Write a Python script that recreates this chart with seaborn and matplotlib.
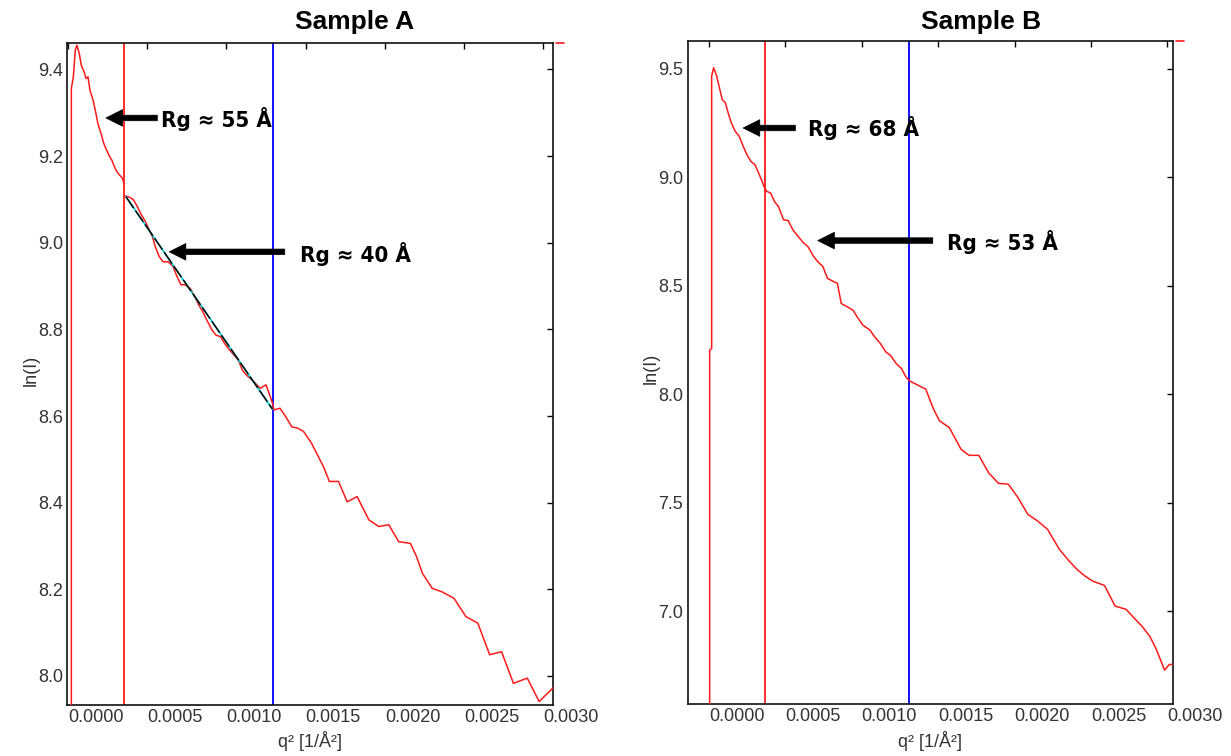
import matplotlib
matplotlib.use("Agg")
import matplotlib.pyplot as plt
from matplotlib import font_manager as fm
from matplotlib.ticker import FormatStrFormatter
import numpy as np
import pandas as pd
import seaborn as sns

# ---------------- data ----------------
# Sample A : first segment (up to the first Guinier marker)
qA_seg1 = [0.00002, 0.00002, 0.0000325, 0.000045, 0.000055, 0.00007, 0.0000825, 0.0001,
           0.0001125, 0.000125, 0.0001375, 0.0001575, 0.000175, 0.0001875, 0.0002075,
           0.000225, 0.0002375, 0.0002575, 0.000275, 0.0002925, 0.0003075, 0.000325,
           0.0003425, 0.0003525]
lnA_seg1 = [7.60, 9.356, 9.383, 9.445, 9.456, 9.437, 9.410, 9.395, 9.379, 9.383, 9.352,
            9.329, 9.299, 9.275, 9.252, 9.229, 9.218, 9.202, 9.191, 9.175, 9.164, 9.156,
            9.149, 9.137]
# Sample A : second segment
qA_seg2 = [0.0003625, 0.0003875, 0.0004125, 0.0004375, 0.0004625, 0.0004875, 0.0005125,
           0.0005325, 0.00055, 0.000575, 0.0006, 0.0006325, 0.0006625, 0.0006875, 0.0007125,
           0.0007375, 0.00077, 0.0008, 0.000825, 0.00085, 0.000875, 0.0009075, 0.0009325,
           0.0009625, 0.0009875, 0.0010175, 0.0010375, 0.001075, 0.0011, 0.001125, 0.0011625,
           0.0012125, 0.00125, 0.0012875, 0.0013, 0.0013375, 0.001375, 0.0014125, 0.00145,
           0.0014875, 0.0015375, 0.001575, 0.0016125, 0.00165, 0.0017075, 0.0017625, 0.001825,
           0.0019, 0.0019625, 0.002025, 0.0020875, 0.002162, 0.0022, 0.0022375, 0.0023,
           0.0023625, 0.0024375, 0.0025125, 0.0025875, 0.0026625, 0.0027375, 0.0028125,
           0.0029, 0.002975, 0.00307]
lnA_seg2 = [9.108, 9.105, 9.099, 9.083, 9.064, 9.049, 9.029, 9.014, 8.991, 8.968, 8.956,
            8.956, 8.945, 8.922, 8.903, 8.903, 8.895, 8.876, 8.856, 8.841, 8.822, 8.799,
            8.787, 8.783, 8.768, 8.753, 8.745, 8.729, 8.706, 8.695, 8.683, 8.664, 8.672,
            8.633, 8.614, 8.618, 8.598, 8.575, 8.572, 8.564, 8.537, 8.510, 8.483, 8.449,
            8.449, 8.402, 8.414, 8.360, 8.345, 8.349, 8.310, 8.306, 8.276, 8.237, 8.202,
            8.194, 8.179, 8.137, 8.122, 8.049, 8.056, 7.983, 7.995, 7.941, 7.975]
# Sample A : Guinier fit line
qA_fit = [0.000365, 0.00129]
lnA_fit = [9.106, 8.616]

# Sample B
qB = [0.000005, 0.000005, 0.000018, 0.000018, 0.000031, 0.000051, 0.000069, 0.0000875,
      0.000108, 0.000126, 0.000147, 0.000172, 0.000198, 0.000224, 0.000249, 0.000275,
      0.000301, 0.000326, 0.000344, 0.000365, 0.000378, 0.000404, 0.000429, 0.000455,
      0.000488, 0.000519, 0.00055, 0.000584, 0.000617, 0.000648, 0.000686, 0.000712,
      0.000746, 0.000776, 0.000815, 0.000841, 0.000866, 0.000905, 0.000943, 0.000977,
      0.001008, 0.001054, 0.001085, 0.001123, 0.001157, 0.001188, 0.001226, 0.00126,
      0.00129, 0.001311, 0.001355, 0.001419, 0.00147, 0.001509, 0.001573, 0.00165,
      0.001702, 0.001766, 0.00183, 0.001895, 0.001959, 0.002023, 0.002087, 0.002152,
      0.002216, 0.002293, 0.002357, 0.002409, 0.00246, 0.002512, 0.002589, 0.002658,
      0.00273, 0.002781, 0.002833, 0.002884, 0.002923, 0.002982, 0.003013, 0.00305]
lnB = [6.0, 8.203, 8.21, 9.466, 9.505, 9.466, 9.412, 9.358, 9.343, 9.297,
       9.250, 9.212, 9.189, 9.143, 9.104, 9.073, 9.058, 9.019, 8.988, 8.950,
       8.935, 8.927, 8.888, 8.865, 8.804, 8.800, 8.757, 8.727, 8.699, 8.680,
       8.634, 8.611, 8.588, 8.534, 8.519, 8.511, 8.418, 8.403, 8.387, 8.349,
       8.318, 8.295, 8.264, 8.233, 8.195, 8.179, 8.141, 8.118, 8.079, 8.062,
       8.046, 8.023, 7.931, 7.877, 7.846, 7.746, 7.718, 7.718, 7.638, 7.589,
       7.585, 7.523, 7.446, 7.415, 7.377, 7.285, 7.231, 7.192, 7.162, 7.138,
       7.118, 7.023, 7.008, 6.969, 6.931, 6.885, 6.831, 6.728, 6.754, 6.754]

# Guinier range markers (red = start, blue = end)
markA_red, markA_blue = 0.000355, 0.001295
markB_red, markB_blue = 0.000365, 0.001308

titles = ["Sample A", "Sample B"]
xlabel = "q² [1/Å²]"
ylabel = "ln(I)"
x_ticks = [0.0, 0.0005, 0.0010, 0.0015, 0.0020, 0.0025, 0.0030]
yA_ticks = [8.0, 8.2, 8.4, 8.6, 8.8, 9.0, 9.2, 9.4]
yB_ticks = [7.0, 7.5, 8.0, 8.5, 9.0, 9.5]

# annotations: (label, text_x, text_baseline_y, head_x, head_y, tail_x)
annA = [("Rg ≈ 55 Å", 0.000588, 9.266, 0.000238, 9.288, 0.000563),
        ("Rg ≈ 40 Å", 0.001463, 8.956, 0.000638, 8.979, 0.001368)]
annB = [("Rg ≈ 68 Å", 0.000648, 9.189, 0.000224, 9.227, 0.000566),
        ("Rg ≈ 53 Å", 0.001555, 8.665, 0.000712, 8.708, 0.001465)]

# ---------------- style ----------------
sns.set_style("white")
plt.rcParams['font.family'] = ['Liberation Sans', 'DejaVu Sans']

def find_condensed_bold():
    best = None
    for f in fm.fontManager.ttflist:
        n = (f.fname or '').lower().replace('-', '').replace('_', '')
        if ('oblique' in n) or ('italic' in n):
            continue
        if 'dejavusanscondensedbold' in n:
            return f.fname
        if ('narrow' in n or 'condensed' in n) and 'bold' in n and best is None:
            best = f.fname
    return best

cond = find_condensed_bold()
if cond:
    ann_font = fm.FontProperties(fname=cond, size=16)
else:
    ann_font = fm.FontProperties(family='DejaVu Sans', weight='bold', size=14)

W, H = 1231, 756
fig = plt.figure(figsize=(W / 100, H / 100), dpi=100)
fig.patch.set_facecolor('white')

axA = fig.add_axes([67 / W, 51 / H, 486 / W, 662 / H])
axB = fig.add_axes([687.5 / W, 52.5 / H, 485.5 / W, 662.5 / H])

RED = '#ff1a1a'
BLUE = '#0000ff'
TICKC = '#333333'


def style_axes(ax, xlim, ylim, yticks):
    ax.set_xlim(*xlim)
    ax.set_ylim(*ylim)
    ax.set_xticks(x_ticks)
    ax.set_yticks(yticks)
    ax.xaxis.set_major_formatter(FormatStrFormatter('%.4f'))
    ax.yaxis.set_major_formatter(FormatStrFormatter('%.1f'))
    ax.tick_params(direction='in', top=True, right=True, length=4, width=1,
                   colors='black', labelcolor=TICKC, labelsize=13, pad=3)
    plt.setp(ax.get_xticklabels(), ha='left')
    for s in ax.spines.values():
        s.set_visible(True)
        s.set_color('#111111')
        s.set_linewidth(1.2)
    ax.set_xlabel('')
    ax.set_ylabel('')
    ax.grid(False)
    # small red legend tick outside top-right corner
    ax.plot([1.006, 1.022], [1.0, 1.0], transform=ax.transAxes, color=RED,
            lw=1.2, clip_on=False)


def annotate(ax, items):
    for label, tx, ty, hx, hy, tlx in items:
        ax.annotate('', xy=(hx, hy), xytext=(tlx, hy),
                    arrowprops=dict(arrowstyle='simple,head_length=0.6,head_width=0.6,tail_width=0.2',
                                    mutation_scale=20, fc='black', ec='black', lw=0.5,
                                    shrinkA=0, shrinkB=0))
        ax.text(tx, ty, label, fontproperties=ann_font, ha='left', va='baseline', color='black')


# ---- Sample A ----
dfA1 = pd.DataFrame({'q2': qA_seg1, 'lnI': lnA_seg1})
dfA2 = pd.DataFrame({'q2': qA_seg2, 'lnI': lnA_seg2})
dfAf = pd.DataFrame({'q2': qA_fit, 'lnI': lnA_fit})
axA.axvline(markA_red, color=RED, lw=1.3, zorder=2)
axA.axvline(markA_blue, color=BLUE, lw=1.3, zorder=2)
sns.lineplot(data=dfA1, x='q2', y='lnI', ax=axA, color=RED, lw=1.1, estimator=None, sort=False, zorder=3)
sns.lineplot(data=dfA2, x='q2', y='lnI', ax=axA, color=RED, lw=1.1, estimator=None, sort=False, zorder=3)
sns.lineplot(data=dfAf, x='q2', y='lnI', ax=axA, color='#00d0e0', lw=1.2, estimator=None, sort=False, zorder=4)
sns.lineplot(data=dfAf, x='q2', y='lnI', ax=axA, color='black', lw=1.1, estimator=None, sort=False,
             zorder=5, dashes=False)
axA.lines[-1].set_dashes([9, 2])
style_axes(axA, (-0.0000075, 0.0030625), (7.933, 9.461), yA_ticks)
annotate(axA, annA)

# ---- Sample B ----
dfB = pd.DataFrame({'q2': qB, 'lnI': lnB})
axB.axvline(markB_red, color=RED, lw=1.3, zorder=2)
axB.axvline(markB_blue, color=BLUE, lw=1.3, zorder=2)
sns.lineplot(data=dfB, x='q2', y='lnI', ax=axB, color=RED, lw=1.1, estimator=None, sort=False, zorder=3)
style_axes(axB, (-0.00014, 0.003037), (6.574, 9.628), yB_ticks)
annotate(axB, annB)

# ---- titles and axis labels as figure text ----
title_font = dict(fontsize=19, fontweight='bold', color='black', ha='center', va='baseline')
fig.text(355 / W, 1 - 28.5 / H, titles[0], **title_font)
fig.text(981 / W, 1 - 28.5 / H, titles[1], **title_font)

lab_font = dict(fontsize=13, color=TICKC)
fig.text(309.5 / W, 1 - 747 / H, xlabel, ha='center', va='baseline', **lab_font)
fig.text(930 / W, 1 - 747 / H, xlabel, ha='center', va='baseline', **lab_font)
fig.text(31 / W, 1 - 370 / H, ylabel, rotation=90, ha='center', va='center', **lab_font)
fig.text(651 / W, 1 - 368 / H, ylabel, rotation=90, ha='center', va='center', **lab_font)

fig.savefig('out.png', dpi=100, facecolor='white')
